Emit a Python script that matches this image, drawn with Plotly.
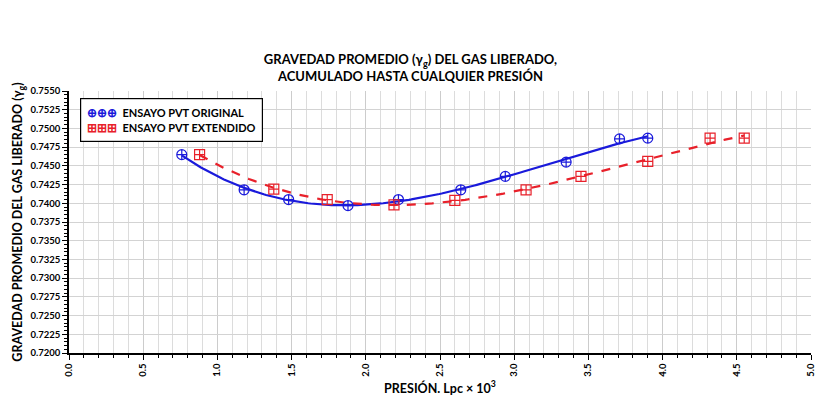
import numpy as np
import plotly.graph_objects as go

# Data
x_original = [0.76, 1.18, 1.48, 1.88, 2.22, 2.64, 2.94, 3.35, 3.71, 3.90]
y_original = [0.7465, 0.7418, 0.7405, 0.7397, 0.7405, 0.7418, 0.7436, 0.7455, 0.7486, 0.7487]
x_extendido = [0.88, 1.38, 1.74, 2.19, 2.60, 3.08, 3.45, 3.90, 4.32, 4.55]
y_extendido = [0.7465, 0.7419, 0.7405, 0.7398, 0.7404, 0.7418, 0.7436, 0.7456, 0.7487, 0.7487]

x_ticks = [0.0, 0.5, 1.0, 1.5, 2.0, 2.5, 3.0, 3.5, 4.0, 4.5, 5.0]
x_ticklabels = ["0.0", "0.5", "1.0", "1.5", "2.0", "2.5", "3.0", "3.5", "4.0", "4.5", "5.0"]

BLUE = "#1a1adb"
RED = "#e8202a"
FONT = "Lato"

fig = go.Figure()

def trend(xs, ys, deg=3):
    c = np.polyfit(xs, ys, deg)
    xx = np.linspace(min(xs), max(xs), 200)
    return xx, np.polyval(c, xx)

bx, by = trend(x_original, y_original)
rx, ry = trend(x_extendido, y_extendido)

fig.add_trace(go.Scatter(x=bx, y=by, mode="lines", line=dict(color=BLUE, width=2.2),
                         showlegend=False, hoverinfo="skip"))
fig.add_trace(go.Scatter(x=rx, y=ry, mode="lines", line=dict(color=RED, width=2.2, dash="dash"),
                         showlegend=False, hoverinfo="skip"))
fig.add_trace(go.Scatter(x=x_original, y=y_original, mode="markers", name="ENSAYO PVT ORIGINAL",
                         marker=dict(symbol="circle-cross-open", size=10, color=BLUE,
                                     line=dict(width=1.2, color=BLUE)),
                         showlegend=False))
fig.add_trace(go.Scatter(x=x_extendido, y=y_extendido, mode="markers", name="ENSAYO PVT EXTENDIDO",
                         marker=dict(symbol="square-cross-open", size=10, color=RED,
                                     line=dict(width=1.2, color=RED)),
                         showlegend=False))

fig.add_annotation(
    xref="paper", yref="paper", x=0.015, y=0.975, xanchor="left", yanchor="top",
    align="left", showarrow=False,
    text=(f"<span style='color:{BLUE};font-size:12px'>⊕⊕⊕</span>  ENSAYO PVT ORIGINAL<br>"
          f"<span style='color:{RED};font-size:12px'>⊞⊞⊞</span>  ENSAYO PVT EXTENDIDO"),
    font=dict(family=FONT, size=11, color="black", weight="bold"),
    bordercolor="black", borderwidth=1.2, borderpad=6, bgcolor="white",
)

fig.update_layout(
    width=821, height=401,
    margin=dict(l=69, r=5, t=91, b=48),
    paper_bgcolor="white", plot_bgcolor="white",
    font=dict(family=FONT, color="black"),
    title=dict(
        text="GRAVEDAD PROMEDIO (γ<sub>g</sub>) DEL GAS LIBERADO,<br>ACUMULADO HASTA CUALQUIER PRESIÓN",
        x=0.5, xref="container", xanchor="center", y=0.84, yref="container", yanchor="middle",
        font=dict(family=FONT, size=13, color="black", weight="bold"),
    ),
    xaxis=dict(
        range=[0, 5], tickvals=x_ticks, ticktext=x_ticklabels, tickangle=-90,
        ticklabeloverflow="allow",
        ticks="outside", ticklen=5, tickcolor="black", tickwidth=1,
        showline=True, linecolor="black", linewidth=1.5,
        showgrid=True, gridcolor="#cccccc", gridwidth=1,
        minor=dict(dtick=0.1, ticks="outside", ticklen=3, tickcolor="black",
                   showgrid=True, gridcolor="#dcdcdc", gridwidth=1),
        tickfont=dict(family=FONT, size=9.5, weight="bold"),
        title=dict(text="PRESIÓN. Lpc × 10<sup>3</sup>", font=dict(family=FONT, size=12.5, weight="bold"),
                   standoff=8),
        zeroline=False,
    ),
    yaxis=dict(
        range=[0.72, 0.755], dtick=0.0025, tick0=0.72, tickformat=".4f",
        ticks="outside", ticklen=5, tickcolor="black",
        showline=True, linecolor="black", linewidth=1.5,
        showgrid=True, gridcolor="#d3d3d3", gridwidth=1,
        minor=dict(dtick=0.0005, ticks="outside", ticklen=3, tickcolor="black", showgrid=False),
        tickfont=dict(family=FONT, size=9.5, weight="bold"),
        title=dict(text="GRAVEDAD PROMEDIO DEL GAS LIBERADO (γ<sub>g</sub>)",
                   font=dict(family=FONT, size=12.5, weight="bold"), standoff=5),
        zeroline=False,
    ),
)

fig.write_html("out.html")
